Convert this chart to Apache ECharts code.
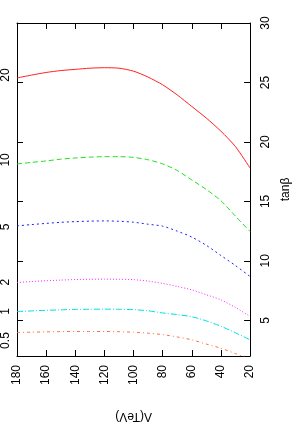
<!DOCTYPE html>
<html><head><meta charset="utf-8">
<script src="https://cdn.jsdelivr.net/npm/echarts@6/dist/echarts.min.js"></script>
<style>html,body{margin:0;padding:0;background:#fff}#c{width:300px;height:427px}</style>
</head><body><div id="c"></div>
<script>
const lambda = [180,170,160,150,140,130,120,110,100,90,80,70,60,50,40,30,20];
const red     = [25.38,25.62,25.84,26.0,26.1,26.2,26.24,26.2,25.95,25.45,24.8,23.95,22.98,22.0,20.9,19.6,17.8];
const green   = [18.15,18.28,18.4,18.55,18.65,18.72,18.76,18.76,18.7,18.5,18.15,17.6,16.8,16.0,15.05,13.75,12.46];
const blue    = [12.94,13.05,13.15,13.24,13.3,13.34,13.36,13.33,13.25,13.08,12.92,12.5,12.0,11.3,10.45,9.6,8.68];
const magenta = [8.18,8.26,8.33,8.38,8.43,8.45,8.46,8.45,8.42,8.3,8.1,7.85,7.56,7.15,6.72,6.08,5.32];
const cyan    = [5.74,5.79,5.84,5.88,5.92,5.93,5.94,5.93,5.9,5.8,5.62,5.48,5.3,4.95,4.5,3.95,3.36];
const orange  = [3.98,4.0,4.03,4.05,4.06,4.06,4.06,4.04,4.0,3.92,3.8,3.6,3.36,3.0,2.65,2.2,1.7];
const curveLabels = ['20','10','5','2','1','0.5'];
const curveLabelPos = [25.63,18.49,12.86,8.2,5.74,3.3];
const tanbTicks = [5,10,15,20,25,30];

const FONT = 'Liberation Sans';
const pair = v => lambda.map((l,i)=>[l,v[i]]);
const styles = [
  {d:red, c:'#ff2020', t:'solid'},
  {d:green, c:'#20e020', t:[5,3]},
  {d:blue, c:'#2020ff', t:[2,3]},
  {d:magenta, c:'#ff20ff', t:[1,2]},
  {d:cyan, c:'#00e0e0', t:[6,2,1,2]},
  {d:orange, c:'#ff7040', t:[3,3,1,3]}
];
const chart = echarts.init(document.getElementById('c'), null, {renderer:'canvas'});
const axisCommon = {
  axisLine:{show:true, lineStyle:{color:'#000', width:1}},
  splitLine:{show:false},
  axisTick:{inside:true, length:6, lineStyle:{color:'#000'}}
};
chart.setOption({
  animation:false,
  backgroundColor:'#fff',
  grid:{left:17, right:42, top:23, bottom:71, containLabel:false},
  xAxis:[
    Object.assign({}, axisCommon, {type:'value', min:20, max:180, interval:20, inverse:true, position:'bottom',
      axisLabel:{rotate:90, fontSize:12, color:'#000', fontFamily:FONT, margin:9},
      name:'Λ(TeV)', nameLocation:'middle', nameRotate:180, nameGap:54,
      nameTextStyle:{fontSize:12, color:'#000', fontFamily:FONT}}),
    Object.assign({}, axisCommon, {type:'value', min:20, max:180, interval:20, inverse:true, position:'top',
      axisLabel:{show:false}})
  ],
  yAxis:[
    Object.assign({}, axisCommon, {type:'value', min:2, max:30, position:'right',
      axisTick:{inside:true, length:6, customValues:tanbTicks, lineStyle:{color:'#000'}},
      axisLabel:{rotate:90, fontSize:12, color:'#000', fontFamily:FONT, margin:10, customValues:tanbTicks},
      name:'tanβ', nameLocation:'middle', nameRotate:90, nameGap:25,
      nameTextStyle:{fontSize:12, color:'#000', fontFamily:FONT}}),
    Object.assign({}, axisCommon, {type:'value', min:2, max:30, position:'left',
      axisTick:{inside:true, length:6, customValues:[5,10,15,20,25], lineStyle:{color:'#000'}},
      axisLabel:{rotate:90, fontSize:12, color:'#000', fontFamily:FONT, margin:5, customValues:curveLabelPos,
        formatter: v => { const i = curveLabelPos.findIndex(p=>Math.abs(p-v)<1e-6); return i>=0?curveLabels[i]:''; }}})
  ],
  series: styles.map(s=>({
    type:'line', xAxisIndex:0, yAxisIndex:0, data:pair(s.d), showSymbol:false, symbol:'none',
    smooth:0.25, clip:true,
    lineStyle:{color:s.c, width:1, type:s.t}
  }))
});
</script></body></html>
